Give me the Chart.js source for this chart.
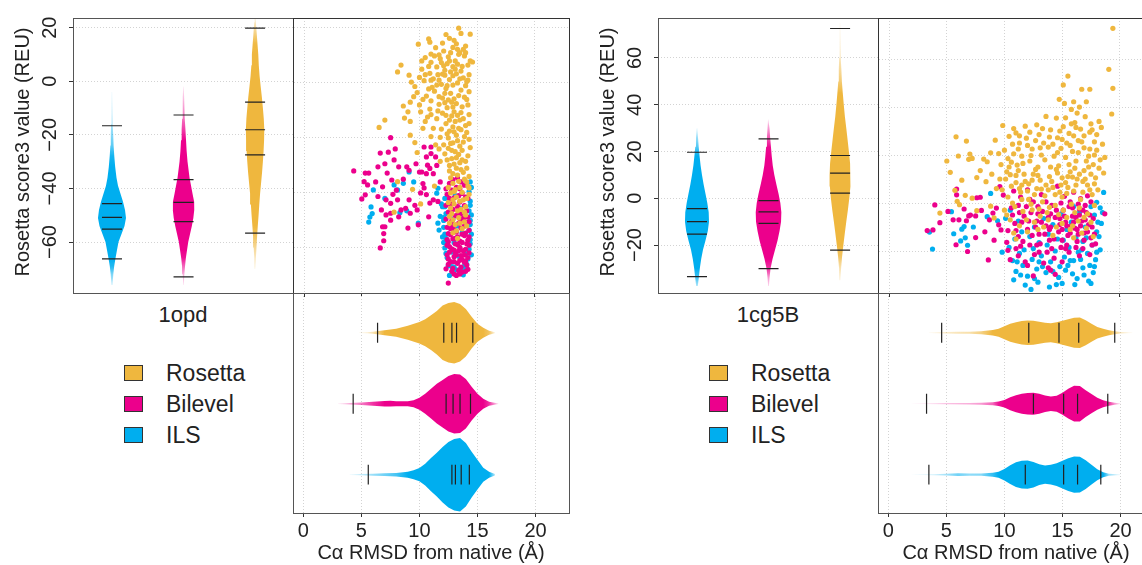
<!DOCTYPE html>
<html>
<head>
<meta charset="utf-8">
<script src="https://cdn.jsdelivr.net/npm/chart.js@4.4.1/dist/chart.umd.min.js"></script>
<style>
  html, body { margin: 0; padding: 0; }
  body { width: 1142px; height: 565px; overflow: hidden; position: relative; background: #fff;
         font-family: "Liberation Sans", Arial, Helvetica, sans-serif; color: #222; }
  canvas, .frame, .txt, .swatch { position: absolute; }
  .frame { box-sizing: border-box; border: 1px solid #555; pointer-events: none; }
  .txt { white-space: nowrap; }
  .swatch { box-sizing: border-box; border: 1px solid #333; width: 19px; height: 16px; }
</style>
</head>
<body>
<script>
/* ===========================
   DATOS – 1opd (panel izquierdo)
=========================== */
const methods = ["ILS", "Bilevel", "Rosetta"];          // posiciones 1, 2, 3
const colors = ["#00AEEF", "#EC008C", "#EFB73E"];
const legendOrder = ["Rosetta", "Bilevel", "ILS"];
const scoreTicks1 = [-60, -40, -20, 0, 20];
const scoreTicks2 = [-20, 0, 20, 40, 60];
const rmsdTicks = [0, 5, 10, 15, 20];

// violines de score (valor, semi-ancho en px)
const ilsScoreAt1 = [-76,-72,-69,-66,-63,-60,-57,-54,-51,-48,-45,-42,-39,-36,-32,-28,-24,-20,-16,-12,-8,-4];
const ilsScoreDens1 = [0.5,1.3,2.2,3.5,5,6.5,9.5,12.5,14,13,11,8.5,6,4.5,3.2,2.3,1.6,1.2,0.9,0.6,0.4,0.2];
const bilScoreAt1 = [-76,-72,-69,-66,-63,-60,-57,-54,-51,-48,-45,-42,-39,-36,-33,-30,-26,-22,-18,-14,-10,-6,-2,2];
const bilScoreDens1 = [0.3,0.8,1.5,2.3,3.5,4.7,6.5,8.3,9.8,10.7,10.6,9,7.5,6,5,4,3.1,2.5,1.9,1.4,1,0.6,0.3,0.1];
const rosScoreAt1 = [-70,-66,-62,-58,-54,-50,-46,-42,-38,-34,-30,-26,-22,-18,-14,-10,-6,-2,2,6,10,14,18,22,24];
const rosScoreDens1 = [0.3,0.8,1.4,2,2.7,3.5,4.2,5,6,7,7.8,8.5,9,9.2,8.7,7.8,6.8,5.6,4.5,3.7,3.2,2.4,1.6,0.8,0.4];
const ilsScoreMarks1 = [-66.3,-55.2,-50.8,-45.7,-16.6];
const bilScoreMarks1 = [-73.0,-52.4,-45.2,-36.7,-12.6];
const rosScoreMarks1 = [-56.7,-27.5,-18.1,-7.8,19.8];

// violines de RMSD
const ilsRmsdAt1 = [4,5,6,7,8,9,9.5,10,10.5,11,11.5,12,12.5,13,13.5,14,14.5,15,15.5,16,16.5];
const ilsRmsdDens1 = [0.2,0.6,1,1.4,1.8,3,4.5,6.7,11,16.7,22,28,33,36,37,32,23,15,7,3,0.8];
const bilRmsdAt1 = [3,4,5,6,7,7.5,8,9,9.5,10,10.5,11,11.5,12,12.5,13,13.5,14,14.5,15,15.5,16,16.8];
const bilRmsdDens1 = [0.2,0.8,1.3,2,2.8,2.9,2.6,2.6,3.5,6,10,15,20,24,28,30,29.5,25,17,10,5,2,0.3];
const rosRmsdAt1 = [4.8,5.5,6,7,8,9,10,10.5,11,11.5,12,12.5,13,13.5,14,14.5,15,15.5,16,16.5];
const rosRmsdDens1 = [0.2,0.6,1,2.5,4,7,10.8,13.5,17.5,22,27.5,30,31,29,24,16,9,5,2,0.4];
const ilsRmsdMarks1 = [5.6,12.8,13.1,13.6,14.3];
const bilRmsdMarks1 = [4.3,12.3,12.9,13.5,14.4];
const rosRmsdMarks1 = [6.4,12.1,12.8,13.2,14.6];

// scatter (RMSD, score)
const rosPts1 = [[13.4,19.9],[13.6,18.0],[14.4,17.7],[12.3,17.6],[10.8,16.0],[9.9,14.1],[13.0,15.5],[12.6,16.2],[14.0,13.4],[13.2,14.2],[13.8,12.2],[12.1,11.6],[11.4,12.8],[13.5,11.0],[14.6,7.6],[12.9,12.9],[11.0,10.5],
  [8.4,6.5],[8.1,4.0],[9.1,2.8],[9.3,0.3],[9.6,-1.3],[10.5,9.2],[11.0,7.5],[11.8,8.8],[12.5,9.5],[13.1,8.0],[13.9,9.8],[14.2,6.5],[10.2,5.0],[10.9,3.5],[11.5,5.8],[12.2,4.6],[12.9,5.9],[13.6,4.3],[14.3,3.0],[9.8,-3.5],[10.4,0.8],[11.2,1.5],[11.9,-0.5],[12.6,1.2],[13.3,0.0],[14.0,-1.0],[10.6,-4.8],[11.3,-3.0],[12.0,-5.5],[12.7,-3.8],[13.4,-4.6],[14.1,-6.0],[11.6,3.0],[12.4,7.0],[13.3,6.8],[10.0,2.0],[11.1,-1.6],[12.3,-2.0],[13.8,1.8],[12.8,-7.0],[13.6,-2.6],[12.9,2.6],[11.7,10.2],[12.7,11.0],[13.4,10.4],[14.4,8.0],[12.1,6.2],[13.2,3.3],[11.0,-6.5],[13.0,-5.8],[14.3,-3.2],
  [8.6,-8.4],[9.2,-7.0],[10.0,-8.0],[10.9,-9.5],[11.7,-7.8],[12.4,-9.0],[13.0,-10.5],[13.7,-8.7],[14.3,-11.5],[7.0,-13.5],[6.5,-16.2],[9.2,-14.0],[10.3,-16.5],[11.5,-13.0],[12.3,-14.8],[12.9,-16.0],[13.5,-13.5],[14.0,-15.5],[9.2,-19.0],[9.6,-21.7],[9.8,-25.3],[11.0,-19.5],[12.5,-20.0],[13.2,-19.0],[13.8,-21.5],[14.4,-23.5],[12.8,-24.5],[13.4,-26.0],[12.2,-25.8],[11.8,-28.5],[13.0,-29.5],[13.7,-28.0],[14.1,-31.0],[12.6,-32.0],[13.3,-33.5],[13.9,-35.0],[12.9,-36.5],[13.5,-38.0],[14.2,-37.5],[12.7,-40.0],[13.2,-41.5],[13.8,-42.5],[14.3,-40.5],[12.8,-12.0],[13.3,-11.8],[12.6,-17.5],[13.6,-17.0],[12.9,-21.8],[13.5,-23.0],[12.4,-28.0],[13.2,-27.2],[12.9,-33.0],[13.6,-31.5],[13.1,-38.8],[12.5,-43.5],[14.0,-45.0],[11.9,-16.8],[11.4,-22.5],[10.7,-12.4],[12.0,-11.0],
  [13.0,-44.0],[13.6,-46.0],[12.8,-47.5],[13.4,-49.0],[14.0,-48.0],[13.1,-51.5],[13.7,-53.0],[12.9,-54.5],[13.3,-56.5],[12.6,-51.0],[14.1,-52.0],
  [8.1,-35.9],[9.4,-38.7],[7.8,-47.0],[10.1,-44.0],[11.3,-37.5],
  [12.4,-1.0],[12.9,-0.8],[13.5,1.5],[14.1,0.5],[12.2,2.8],[12.7,4.0],[13.1,5.0],[13.7,6.0],[14.2,1.0],[12.5,-6.2],[13.2,-7.5],[13.9,-5.2],[12.3,-11.8],[12.9,-8.8],[13.6,-10.8],[14.2,-8.0],[12.6,-13.5],[13.1,-14.0],[13.8,-13.0],[14.3,-14.8],[12.4,-18.5],[13.0,-17.8],[13.4,-16.5],[14.1,-18.0],[12.7,-22.0],[13.3,-21.0],[13.9,-19.5],[14.3,-20.5],[12.5,-23.8],[13.1,-25.0],[13.7,-24.5],[14.2,-26.5],[12.8,-27.5],[13.5,-29.0],[14.0,-28.5],[12.6,-30.0],[13.2,-31.0],[13.8,-32.5],[14.3,-34.0],[12.7,-34.5],[13.4,-35.8],[14.1,-36.0],[12.5,-38.0],[13.0,-39.5],[13.7,-39.8],[14.3,-38.2],[12.9,-42.5],[13.5,-43.0],[14.1,-42.0],[12.7,-45.5],[13.3,-46.5],[13.9,-47.0],[12.9,-49.8],[13.5,-51.0],[13.2,-53.8],[13.9,-50.5],[12.6,-48.5],
  [10.2,8.0],[10.8,6.0],[11.3,9.8],[11.9,7.4],[12.6,8.0],[13.3,12.2],[14.0,11.0],[10.5,3.0],[11.0,1.0],[11.7,1.0],[12.0,3.2],[10.8,-2.2],[11.5,-0.8],[12.2,-3.8],[11.7,-5.0],[10.3,-6.0],[9.5,-5.0],[10.1,-10.5],[11.0,-11.5],[11.6,-10.2],[12.2,-7.2],[10.9,14.8],[12.0,14.5],[9.0,-10.5],[8.7,-12.8],[10.5,-14.0],[11.2,-16.5],[11.8,-19.8],[12.1,-22.5],[11.7,-24.0]];
const bilPts1 = [[4.3,-32.0],[7.5,-19.9],[6.6,-25.5],[7.3,-25.2],[7.9,-24.0],[5.3,-32.8],[5.6,-32.8],[5.2,-35.9],[5.5,-37.1],[5.0,-42.2],[5.3,-40.7],[6.4,-30.5],[7.0,-29.4],[7.8,-28.0],[8.2,-30.5],[7.2,-32.8],[7.6,-35.3],[6.8,-37.8],[6.4,-41.3],[7.1,-42.5],[7.5,-43.8],[6.7,-46.2],[7.1,-48.0],[7.5,-47.4],[6.8,-52.3],[7.0,-52.3],[6.9,-54.8],[6.9,-57.4],[6.6,-60.0],[8.2,-48.7],[8.4,-46.2],[8.8,-45.6],[9.0,-52.8],[9.2,-47.4],[9.8,-46.2],[9.9,-51.6],[10.1,-40.0],[10.6,-40.6],[10.3,-36.6],[9.7,-29.4],[10.0,-32.4],[10.2,-32.4],[10.6,-33.0],[10.9,-31.1],[11.2,-33.0],[10.7,-29.9],[10.4,-23.3],[10.6,-26.9],[11.0,-25.7],[8.9,-30.5],[9.1,-31.8],[11.2,-42.5],[10.9,-43.7],[11.6,-43.1],[7.5,-49.9],[8.1,-42.5],[9.1,-42.5],[10.8,-48.7],[11.0,-23.3],[11.4,-26.9],[8.0,-39.0],[6.2,-36.0],[9.6,-44.5],[11.8,-36.0],[11.5,-30.0],[10.4,-38.2],[7.7,-40.5],[8.6,-35.0],
  [12.5,-72.8],[13.0,-69.5],[13.5,-69.5],[14.0,-68.5],[12.3,-67.6],
  [12.6,-36.5],[13.2,-38.0],[13.9,-37.2],[12.4,-40.5],[13.0,-41.8],[13.7,-40.2],[14.2,-42.0],[12.7,-44.2],[13.3,-45.0],[13.9,-44.6],[12.5,-47.0],[13.1,-48.3],[13.6,-47.5],[14.2,-48.8],[12.8,-50.2],[13.4,-51.0],[14.0,-50.6],[12.4,-52.5],[13.0,-53.3],[13.6,-52.8],[14.3,-53.6],[12.7,-55.2],[13.3,-56.0],[13.9,-55.5],[12.5,-57.8],[13.1,-58.5],[13.7,-58.0],[14.2,-57.2],[12.8,-60.3],[13.4,-61.0],[14.0,-60.5],[12.4,-62.5],[13.0,-63.2],[13.6,-62.8],[14.2,-63.5],[12.7,-65.0],[13.3,-65.6],[13.9,-65.2],[12.9,-67.4],[13.6,-67.0],[12.6,-59.5],[13.2,-54.2],[13.8,-49.2],[12.9,-46.0],[13.5,-43.3],[12.8,-39.0],[14.1,-46.5],[13.1,-61.8],[13.7,-64.2],[12.5,-64.0],[14.3,-59.0],[13.4,-68.2],[12.9,-56.7],[13.5,-59.8],[14.0,-54.6],
  [12.3,-44.5],[12.6,-42.0],[13.4,-41.0],[14.0,-41.5],[12.3,-49.5],[12.9,-51.8],[13.3,-48.0],[13.9,-52.0],[14.3,-50.5],[12.5,-54.8],[13.1,-56.5],[13.7,-55.0],[14.3,-56.0],[12.4,-59.0],[13.0,-60.8],[13.5,-57.5],[14.1,-58.5],[12.6,-61.5],[13.2,-62.5],[13.8,-61.0],[14.3,-61.8],[12.5,-66.0],[13.0,-65.0],[13.5,-64.5],[14.1,-66.2],[12.8,-68.5],[13.2,-70.0],[13.7,-68.8],[14.2,-67.8],[12.7,-53.0],[13.3,-58.8],[13.9,-62.5],[12.4,-57.0],[14.0,-64.8],[13.6,-50.0],[12.9,-43.5],[13.5,-38.5],[12.9,-35.2],[13.3,-34.5],[12.3,-38.5],[13.6,-36.0]];
const ilsPts1 = [[5.8,-45.1],[5.9,-47.5],[5.6,-50.6],[6.0,-38.9],[7.8,-37.1],[8.1,-38.9],[8.3,-47.2],[8.9,-46.5],[9.1,-32.4],[9.5,-36.0],[9.9,-51.0],[11.6,-38.3],[11.5,-40.1],[11.7,-53.5],[11.6,-51.0],[5.7,-48.8],[8.6,-36.5],[7.0,-42.0],[12.0,-45.0],[12.1,-49.0],
  [14.4,-36.0],[14.3,-39.5],[14.4,-43.0],[14.3,-46.5],[14.4,-50.0],[14.3,-53.5],[14.4,-57.0],[14.3,-60.5],[14.2,-64.0],[12.2,-42.0],[12.3,-47.5],[12.1,-52.5],[12.3,-56.5],[12.2,-60.0],[12.4,-63.5],[12.8,-66.8],[13.2,-68.0],[13.6,-67.5],[13.9,-66.5],[13.4,-63.0],[13.0,-58.0],[13.7,-54.5],[12.9,-49.5],[13.5,-45.5],[13.1,-41.0],[14.0,-62.2],[12.6,-70.0],[13.8,-69.8],[12.8,-61.5],[13.3,-52.0],
  [14.5,-38.0],[14.4,-44.5],[14.5,-48.0],[14.4,-51.5],[14.5,-55.0],[14.4,-58.5],[14.5,-62.5],[14.1,-66.0],[12.2,-45.0],[12.1,-50.0],[12.2,-55.0],[12.1,-58.0],[12.3,-62.0],[12.5,-66.5],[13.0,-67.0],[13.5,-69.0],[14.0,-68.0],[11.9,-44.0],[11.8,-48.5],[12.0,-56.0]];

/* ===========================
   DATOS – 1cg5B (panel derecho)
=========================== */
const ilsScoreAt2 = [-37.5,-34,-30,-26,-22,-18,-14,-10,-6,-2,2,6,10,14,18,22,26,30];
const ilsScoreDens2 = [0.8,1.8,2.8,4.2,6,8.5,10.8,12,11.7,10.3,8.5,6.6,5,3.6,2.6,1.7,1,0.3];
const bilScoreAt2 = [-37.5,-34,-30,-26,-22,-18,-14,-10,-6,-2,2,6,10,14,18,22,26,30,34];
const bilScoreDens2 = [0.4,1,2,4,6.5,9,11,12.5,12.8,11.8,10,7.8,5.8,4.2,3.2,2.4,1.6,1,0.4];
const rosScoreAt2 = [-35,-30,-25,-20,-15,-10,-5,0,5,10,15,20,25,30,35,40,45,50,55,60,65,70,75];
const rosScoreDens2 = [0.3,1,2,3.3,4.7,6.2,7.8,9.2,10.2,10.5,10,8.8,7.5,6.2,4.8,3.7,2.7,1.8,1.3,0.9,0.6,0.4,0.2];
const ilsScoreMarks2 = [-33.5,-15.3,-10,-4.4,19.7];
const bilScoreMarks2 = [-30.1,-10.7,-5.8,-1,25.4];
const rosScoreMarks2 = [-22.2,2.2,10.8,18.3,72.6];

const ilsRmsdAt2 = [2,4,5,6,7,8,9,9.5,10,10.5,11,11.5,12,12.5,13,13.5,14,14.5,15,15.5,16,16.5,17,17.5,18,18.5,19,20];
const ilsRmsdDens2 = [0.1,0.5,0.9,1.4,1.1,1.2,2,3,5.8,9.5,12.5,14,14.2,12.8,10.5,9.2,10,11.5,14,16.5,18.2,18,14.5,10,5.5,2.5,1,0.2];
const bilRmsdAt2 = [2,3,5,7,8,9,9.5,10,10.5,11,11.5,12,12.5,13,13.5,14,14.5,15,15.5,16,16.5,17,17.5,18,18.5,19,19.5,20];
const bilRmsdDens2 = [0.1,0.3,0.6,0.8,1,1.5,2.3,3.7,6.5,8.5,10,10.8,11,10,8.3,7.3,8,11,15,18,17.8,13.5,9.7,6,3.5,2,1,0.3];
const rosRmsdAt2 = [3.5,5,6,7,8,9,9.5,10,10.5,11,11.5,12,12.5,13,13.5,14,14.5,15,15.5,16,16.5,17,17.5,18,18.5,19,19.5,20,21];
const rosRmsdDens2 = [0.2,0.7,0.9,1.1,1.6,2.7,4,6.5,9,10.5,11.8,12.3,12,11,10,9.5,10.5,12,13.7,15,15.3,12.5,9,5.8,4,2.5,1.5,0.8,0.2];
const ilsRmsdMarks2 = [3.5,11.8,15.1,16.3,18.3];
const bilRmsdMarks2 = [3.3,12.5,15.1,16.3,18.9];
const rosRmsdMarks2 = [4.6,12.1,14.7,16.4,19.5];

const rosPts2 = [[19.4,72.8],[19.05,55.7],[19.4,47.8],[19.3,37.1],[15.5,52.9],[15.1,49.2],[16.7,47.4],[17.4,47.4],[14.75,43.2],[15.2,41.5],[17.1,42.2],[16.0,42.2],[18.2,34.0],[18.4,31.5],[15.8,39.0],[16.5,40.0],
  [5.8,27.6],[6.7,25.8],[5.0,17.5],[5.3,12.8],[6.0,19.6],[7.0,20.4],[7.2,18.6],[6.9,18.2],[8.2,18.3],[8.5,17.2],[7.6,10.6],[8.4,8.9],[8.8,20.9],[9.2,26.2],[9.5,20.6],[5.7,5.3],[6.1,-0.7],[6.6,3.2],[7.2,2.0],[7.6,-3.2],[4.4,-4.2],[5.9,0.7],[8.8,-1.3],[9.1,-6.2],[6.3,9.5],[7.9,13.5],[8.9,12.0],[9.3,6.0],
  [9.85,32.3],[10.4,27.8],[11.0,29.2],[11.8,32.0],[12.8,32.6],[13.6,36.1],[14.5,35.4],[10.0,22.0],[10.7,24.5],[11.3,25.0],[11.9,27.0],[12.4,22.5],[13.0,28.5],[13.4,25.0],[14.0,30.5],[14.6,27.2],[15.1,31.8],[15.6,29.0],[16.1,33.5],[16.6,30.8],[17.0,36.0],[17.4,29.5],[17.8,25.5],[18.0,22.0],[18.3,18.0],[15.3,35.5],[16.3,37.5],[12.2,17.5],[11.5,19.5],[10.6,17.0],[13.2,20.0],[13.8,23.3],[14.3,19.5],[14.9,22.8],[15.4,25.0],[15.9,21.5],[16.4,26.0],[16.9,23.0],[17.3,19.5],[17.7,16.0],[16.2,17.5],[15.6,16.0],[14.7,15.5],[12.9,15.0],[11.1,15.8],[10.2,13.0],[18.6,12.5],[17.5,33.0],
  [10.1,10.0],[10.6,7.0],[11.0,11.5],[11.4,4.5],[11.8,9.0],[12.1,1.5],[12.5,12.0],[12.8,6.0],[13.1,9.5],[13.5,3.0],[13.9,11.0],[14.2,6.5],[14.6,12.5],[15.0,2.5],[15.3,8.5],[15.7,13.0],[16.0,5.0],[16.3,10.0],[16.6,1.5],[16.9,13.5],[17.2,7.5],[17.6,3.5],[17.9,10.5],[18.1,5.5],[10.3,2.5],[10.9,-1.5],[11.6,-3.5],[12.3,-0.5],[13.0,-2.5],[13.7,-4.0],[14.4,-1.0],[15.1,-3.0],[15.8,-0.5],[16.5,-2.0],[17.2,-4.5],[17.8,-1.0],[9.8,5.5],[11.2,13.5],[12.7,14.0],[14.0,15.0],[15.5,11.0],[16.8,9.0],[17.5,12.0],[13.3,0.5],[14.8,4.5],[11.5,7.5],[12.0,5.0],[16.1,14.5],[10.0,-3.0],
  [10.5,-7.0],[11.3,-9.5],[12.0,-12.0],[12.6,-8.0],[13.4,-10.0],[14.2,-13.5],[15.0,-8.5],[15.7,-11.0],[16.4,-7.5],[17.1,-10.5],[17.7,-14.0],[11.0,-15.0],[13.8,-7.0],[16.0,-14.5],[10.8,-12.5],
  [10.3,18.5],[10.8,20.5],[11.2,22.5],[11.6,16.5],[12.0,24.0],[12.3,19.8],[12.7,26.0],[13.1,23.0],[13.5,18.0],[13.9,27.5],[14.2,24.5],[14.6,21.0],[15.0,26.5],[15.3,19.0],[15.7,24.0],[16.0,28.0],[16.4,21.0],[16.7,25.5],[17.1,17.5],[17.4,22.5],[17.8,20.0],[16.2,31.5],[15.8,33.0],[14.8,30.0],[13.3,31.0],[12.2,29.5],[11.3,28.0],[10.8,31.0],[10.4,15.0],[11.0,8.5],[11.7,12.0],[12.4,9.5],[12.9,11.5],[13.6,7.5],[14.1,9.0],[14.5,14.0],[15.0,10.5],[15.5,6.5],[15.9,10.8],[16.5,12.0],[17.0,10.0],[17.3,15.0],[17.8,8.0],[18.2,14.5],[10.5,11.8],[11.3,6.0],[12.1,8.0],[12.6,3.5],[13.2,5.8],[13.8,5.5],[14.4,3.5],[14.9,7.5],[15.4,4.0],[16.2,7.5],[16.8,4.5],[17.4,5.5],[10.7,0.0],[11.5,1.5],[12.4,-2.8],[13.1,-5.5],[13.9,-1.8],[14.7,-4.8],[15.4,-6.0],[16.1,-4.0],[16.9,-6.0],[17.5,-8.0],[11.9,-7.0],[12.9,-11.0],[14.5,-10.0],[15.9,-9.5],[16.7,-12.5],[10.2,-5.0],[9.6,10.0],[9.7,16.0],[18.0,28.5],[17.6,30.5],[16.9,28.0],[18.5,24.5],[18.7,19.0]];
const bilPts2 = [[3.3,-11.5],[3.8,-11.2],[3.96,-0.8],[4.4,-8.2],[5.1,-3.5],[5.55,-7.0],[5.85,5.8],[5.85,3.4],[6.05,-7.0],[5.8,-17.4],[6.5,-2.5],[6.7,-7.4],[6.9,-5.4],[7.05,-5.0],[7.5,-5.4],[7.6,2.2],[7.9,2.4],[6.8,-20.2],[7.5,-14.4],[8.6,-23.7],[8.0,-3.1],[8.7,-7.0],[9.0,-4.2],[9.3,-2.1],[9.5,-9.1],[9.7,-11.2],[9.9,3.3],[9.6,6.8],[10.2,-16.4],[10.3,-19.7],[10.5,-23.6],[8.3,-12.0],[9.1,-15.5],
  [10.6,-2.0],[10.9,-8.5],[11.2,-14.0],[11.4,2.5],[11.7,-5.5],[12.0,-11.0],[12.2,-17.5],[12.5,0.5],[12.8,-7.5],[13.0,-13.0],[13.3,-3.5],[13.6,-9.5],[13.9,-15.5],[14.1,-1.0],[14.4,-6.0],[14.7,-12.0],[14.9,-18.5],[15.1,-3.0],[15.3,-8.0],[15.5,-13.5],[15.7,0.5],[15.9,-5.5],[16.1,-10.5],[16.3,-16.0],[16.5,-2.5],[16.7,-7.5],[16.9,-12.5],[17.1,-4.0],[17.3,-9.0],[17.5,-14.5],[17.7,-6.5],[15.2,2.8],[16.0,4.5],[16.6,1.8],[12.0,5.5],[13.2,3.5],[14.6,7.0],[11.0,-19.0],[12.6,-21.5],[13.7,-20.5],[14.3,-23.0],[15.6,-20.5],[16.8,-19.0],[17.4,-21.5],[11.8,-24.5],[13.4,-25.0],[14.4,-29.7],[12.5,-30.4],[13.8,-27.0],[18.7,-4.5],[10.3,-11.5],[11.5,-8.0],[12.3,-4.0],[13.9,-11.0],[15.0,-15.5],[16.2,-6.0],[16.4,-13.0],[17.0,-1.0],[15.8,-9.5],[14.8,-9.0],[13.1,-17.0],[12.9,-1.5],[11.2,-1.0],[17.6,-17.5],[15.4,-17.5],[16.9,-15.5],[14.0,-4.5],[10.8,5.0],[17.2,3.0],[15.6,-1.5],
  [10.7,-5.0],[11.0,-11.5],[11.3,-4.0],[11.6,-16.0],[11.9,-1.5],[12.1,-7.5],[12.4,-13.5],[12.7,-10.0],[12.9,-4.5],[13.2,-8.0],[13.5,-13.0],[13.8,-6.0],[14.0,-10.0],[14.3,-15.0],[14.5,-3.0],[14.8,-6.5],[15.0,-11.0],[15.2,-5.5],[15.4,-9.5],[15.7,-12.5],[15.9,-2.0],[16.0,-8.0],[16.3,-11.0],[16.5,-5.0],[16.6,-9.5],[16.8,-3.0],[17.0,-7.0],[17.2,-12.0],[17.4,-5.0],[17.6,-10.0],[17.8,-13.0],[16.2,-18.5],[15.3,-19.0],[14.1,-19.0],[12.8,-17.5],[11.4,-18.0],[12.2,1.5],[13.6,0.5],[14.9,0.0],[16.4,-0.5],[17.5,0.5],[13.0,-20.5],[15.0,-24.5],[16.5,-22.0],[17.9,-17.0],[11.2,-22.0],[12.0,-26.0],[14.0,-28.0]];
const ilsPts2 = [[3.5,-12.1],[3.76,-19.2],[5.4,-3.6],[5.6,-12.8],[6.3,-10.9],[6.5,-9.8],[6.6,-14.5],[6.2,-15.8],[6.8,-17.6],[8.8,4.0],[8.5,-5.7],[9.4,-7.4],[10.1,-6.4],[7.3,-10.0],[9.8,-20.5],
  [11.8,-34.2],[17.3,-32.5],[18.6,4.4],[18.0,0.3],[17.9,-23.6],[16.8,-27.0],[15.3,-28.0],[10.4,-18.5],[10.7,-24.0],[11.0,-28.5],[11.3,-21.0],[11.6,-26.0],[12.0,-30.5],[12.4,-23.5],[12.8,-27.5],[13.2,-22.0],[13.6,-29.0],[14.0,-24.5],[14.4,-20.0],[14.8,-26.5],[15.2,-22.5],[15.6,-18.5],[16.0,-24.0],[16.4,-20.5],[16.8,-16.0],[17.2,-21.0],[17.6,-17.5],[18.0,-12.0],[15.9,-29.5],[16.6,-23.5],[17.4,-26.0],[16.2,-14.5],[15.4,-11.0],[14.6,-15.0],[13.8,-13.0],[13.0,-16.5],[12.2,-14.0],[11.5,-12.0],[10.9,-15.0],[12.6,-10.0],[14.2,-9.0],[15.8,-8.0],[17.0,-10.0],[17.8,-5.0],[16.5,-4.0],[18.3,-2.0],[18.1,-8.0],[17.5,-1.5],[13.4,-6.5],[11.7,-19.5],[10.5,-3.0],[12.9,-33.0],[14.7,-31.0],[16.3,-31.5],[15.0,-33.5],[17.7,-29.0],[13.9,-35.0],[12.3,-36.0],[16.0,-1.5],[14.9,-4.5],[11.2,-7.5],
  [12.5,-19.0],[13.3,-26.5],[14.2,-28.5],[15.5,-26.0],[16.9,-30.0],[17.8,-26.5],[18.3,-19.5],[18.2,-14.0],[18.4,-8.5],[18.5,-4.0],[11.4,-30.0],[10.8,-32.0],[12.6,-31.5],[14.5,-34.0],[16.1,-34.0],[17.5,-33.5],[13.7,-17.5],[15.1,-15.5],[17.1,-14.5],[11.1,-24.5],[18.0,-20.5],[16.7,-19.5],[15.7,-24.0],[13.0,-24.5]];

/* ===========================
   CONFIGURACIÓN GENERAL
=========================== */
const FONT = '"Liberation Sans", Arial, Helvetica, sans-serif';
const INK = "#222";
const GRID = "#d3d3d3";
const PX_PER_POS = 71.5;     // px entre violines
const MARK_HALF = 10;        // semi-largo de las marcas (px)

Chart.defaults.font.family = FONT;
Chart.defaults.color = INK;

const panels = [
    {
        dx: 0, name: "1opd", yMin: -76.4, yMax: 23.6, yTicks: scoreTicks1,
        scoreAt: [ilsScoreAt1, bilScoreAt1, rosScoreAt1], scoreDens: [ilsScoreDens1, bilScoreDens1, rosScoreDens1],
        scoreMarks: [ilsScoreMarks1, bilScoreMarks1, rosScoreMarks1],
        rmsdAt: [ilsRmsdAt1, bilRmsdAt1, rosRmsdAt1], rmsdDens: [ilsRmsdDens1, bilRmsdDens1, rosRmsdDens1],
        rmsdMarks: [ilsRmsdMarks1, bilRmsdMarks1, rosRmsdMarks1],
        points: [ilsPts1, bilPts1, rosPts1]
    },
    {
        dx: 585, name: "1cg5B", yMin: -37.5, yMax: 77.1, yTicks: scoreTicks2,
        scoreAt: [ilsScoreAt2, bilScoreAt2, rosScoreAt2], scoreDens: [ilsScoreDens2, bilScoreDens2, rosScoreDens2],
        scoreMarks: [ilsScoreMarks2, bilScoreMarks2, rosScoreMarks2],
        rmsdAt: [ilsRmsdAt2, bilRmsdAt2, rosRmsdAt2], rmsdDens: [ilsRmsdDens2, bilRmsdDens2, rosRmsdDens2],
        rmsdMarks: [ilsRmsdMarks2, bilRmsdMarks2, rosRmsdMarks2],
        points: [ilsPts2, bilPts2, rosPts2]
    }
];

/* ===========================
   UTILIDADES
=========================== */
function addCanvas(left, top, w, h) {
    const c = document.createElement("canvas");
    c.width = w;
    c.height = h;
    c.style.cssText = `left:${left}px;top:${top}px;width:${w}px;height:${h}px`;
    document.body.appendChild(c);
    return c;
}

function addDiv(cls, css, text) {
    const d = document.createElement("div");
    d.className = cls;
    d.style.cssText = css;
    if (text) d.textContent = text;
    document.body.appendChild(d);
    return d;
}

function fmtTick(v) {
    return v < 0 ? "\u2212" + Math.abs(v) : String(v);
}

function rgb(hex) {
    const n = parseInt(hex.slice(1), 16);
    return [(n >> 16) & 255, (n >> 8) & 255, n & 255];
}

// contorno cerrado del violín
function violinShape(at, dens, pos, vertical) {
    const pts = [];
    for (let i = 0; i < at.length; i++) {
        const w = dens[i] / PX_PER_POS;
        pts.push(vertical ? {x: pos - w, y: at[i]} : {x: at[i], y: pos + w});
    }
    for (let i = at.length - 1; i >= 0; i--) {
        const w = dens[i] / PX_PER_POS;
        pts.push(vertical ? {x: pos + w, y: at[i]} : {x: at[i], y: pos - w});
    }
    pts.push(pts[0]);
    return pts;
}

// marcas de cuartiles / extremos
function markLines(vals, pos, vertical) {
    const h = MARK_HALF / PX_PER_POS;
    const pts = [];
    vals.forEach(v => {
        if (vertical) pts.push({x: pos - h, y: v}, {x: pos + h, y: v});
        else pts.push({x: v, y: pos - h}, {x: v, y: pos + h});
        pts.push({x: null, y: null});
    });
    return pts;
}

// relleno que se desvanece en las colas
function fadeFill(hex, at, dens, vertical) {
    const [r, g, b] = rgb(hex);
    return (ctx) => {
        const chart = ctx.chart;
        if (!chart.chartArea) return hex;
        const sc = vertical ? chart.scales.y : chart.scales.x;
        const p0 = sc.getPixelForValue(at[0]);
        const p1 = sc.getPixelForValue(at[at.length - 1]);
        const grad = vertical
            ? chart.ctx.createLinearGradient(0, p0, 0, p1)
            : chart.ctx.createLinearGradient(p0, 0, p1, 0);
        const span = at[at.length - 1] - at[0];
        at.forEach((v, i) => {
            const a = Math.min(1, dens[i] / 2.5);
            grad.addColorStop((v - at[0]) / span, `rgba(${r},${g},${b},${a.toFixed(3)})`);
        });
        return grad;
    };
}

function violinDatasets(atList, densList, marksList, vertical) {
    const markSets = methods.map((m, i) => ({
        type: "line",
        data: markLines(marksList[i], i + 1, vertical),
        borderColor: INK,
        borderWidth: 1.2,
        pointRadius: 0,
        fill: false,
        spanGaps: false
    }));
    const shapes = methods.map((m, i) => ({
        type: "line",
        label: m,
        data: violinShape(atList[i], densList[i], i + 1, vertical),
        backgroundColor: fadeFill(colors[i], atList[i], densList[i], vertical),
        borderWidth: 0,
        pointRadius: 0,
        fill: "shape",
        tension: 0
    }));
    return markSets.concat(shapes);
}

const baseOptions = {
    responsive: false,
    animation: false,
    events: [],
    plugins: {legend: {display: false}, tooltip: {enabled: false}}
};

/* ===========================
   CONSTRUCCIÓN DE CADA PANEL
=========================== */
panels.forEach(p => {
    const dx = p.dx;

    // violines verticales de score
    new Chart(addCanvas(dx, 0, 293, 300), {
        type: "scatter",
        data: {datasets: violinDatasets(p.scoreAt, p.scoreDens, p.scoreMarks, true)},
        options: {
            ...baseOptions,
            layout: {padding: {top: 18, bottom: 7, left: 0, right: 0}},
            scales: {
                x: {type: "linear", min: 0.455, max: 3.53, display: false},
                y: {
                    type: "linear", min: p.yMin, max: p.yMax,
                    afterBuildTicks: s => { s.ticks = p.yTicks.map(v => ({value: v})); },
                    afterFit: s => { s.width = 73; },
                    ticks: {minRotation: 90, maxRotation: 90, crossAlign: "center", padding: 2,
                            color: INK, font: {size: 20}, callback: v => fmtTick(v)},
                    grid: {color: GRID, tickColor: "#333", tickLength: 4},
                    border: {display: false, dash: [1, 2]},
                    title: {display: true, text: "Rosetta score3 value (REU)", color: INK,
                            font: {size: 20}, padding: {top: 11}}
                }
            }
        }
    });

    // dispersión RMSD vs score
    new Chart(addCanvas(dx + 290, 0, 282, 300), {
        type: "scatter",
        data: {
            datasets: [2, 1, 0].map(i => ({
                label: methods[i],
                data: p.points[i].map(([x, y]) => ({x, y})),
                pointRadius: 2.6,
                pointBorderWidth: 0,
                pointBackgroundColor: colors[i],
                backgroundColor: colors[i]
            }))
        },
        options: {
            ...baseOptions,
            layout: {padding: {top: 18, bottom: 0, left: 0, right: 3}},
            scales: {
                x: {
                    type: "linear", min: -0.88, max: 22.88,
                    afterBuildTicks: s => { s.ticks = rmsdTicks.map(v => ({value: v})); },
                    afterFit: s => { s.height = 7; },
                    ticks: {display: false},
                    grid: {color: GRID, tickColor: "#333", tickLength: 4},
                    border: {display: false, dash: [1, 2]}
                },
                y: {
                    type: "linear", min: p.yMin, max: p.yMax,
                    afterBuildTicks: s => { s.ticks = p.yTicks.map(v => ({value: v})); },
                    afterFit: s => { s.width = 3; },
                    ticks: {display: false},
                    grid: {color: GRID, drawTicks: false},
                    border: {display: false, dash: [1, 2]}
                }
            }
        }
    });

    // violines horizontales de RMSD
    new Chart(addCanvas(dx + 290, 290, 282, 275), {
        type: "scatter",
        data: {datasets: violinDatasets(p.rmsdAt, p.rmsdDens, p.rmsdMarks, false)},
        options: {
            ...baseOptions,
            layout: {padding: {top: 3, bottom: 0, left: 3, right: 3}},
            scales: {
                x: {
                    type: "linear", min: -0.88, max: 22.88,
                    afterBuildTicks: s => { s.ticks = rmsdTicks.map(v => ({value: v})); },
                    afterFit: s => { s.height = 52; },
                    ticks: {color: INK, font: {size: 20}, padding: 2, maxRotation: 0},
                    grid: {color: GRID, tickColor: "#333", tickLength: 4},
                    border: {display: false, dash: [1, 2]},
                    title: {display: true, text: "C\u03B1 RMSD from native (\u00C5)", color: INK,
                            font: {size: 20}, padding: {top: 0, bottom: 0}}
                },
                y: {type: "linear", min: 0.46, max: 3.56, display: false}
            }
        }
    });

    // marcos
    addDiv("frame", `left:${dx + 73}px;top:18px;width:221px;height:276px`);
    addDiv("frame", `left:${dx + 293}px;top:18px;width:277px;height:276px;border-color:#333`);
    addDiv("frame", `left:${dx + 293}px;top:293px;width:277px;height:221px`);

    // nombre de la proteína
    addDiv("txt", `left:${dx + 83}px;top:304px;width:200px;text-align:center;font-size:22px;line-height:22px`, p.name);

    // leyenda
    legendOrder.forEach((m, k) => {
        const i = methods.indexOf(m);
        addDiv("swatch", `left:${dx + 124}px;top:${365 + 31 * k}px;background:${colors[i]}`);
        addDiv("txt", `left:${dx + 166}px;top:${362 + 31 * k}px;font-size:23px;line-height:23px`, m);
    });
});
</script>
</body>
</html>
